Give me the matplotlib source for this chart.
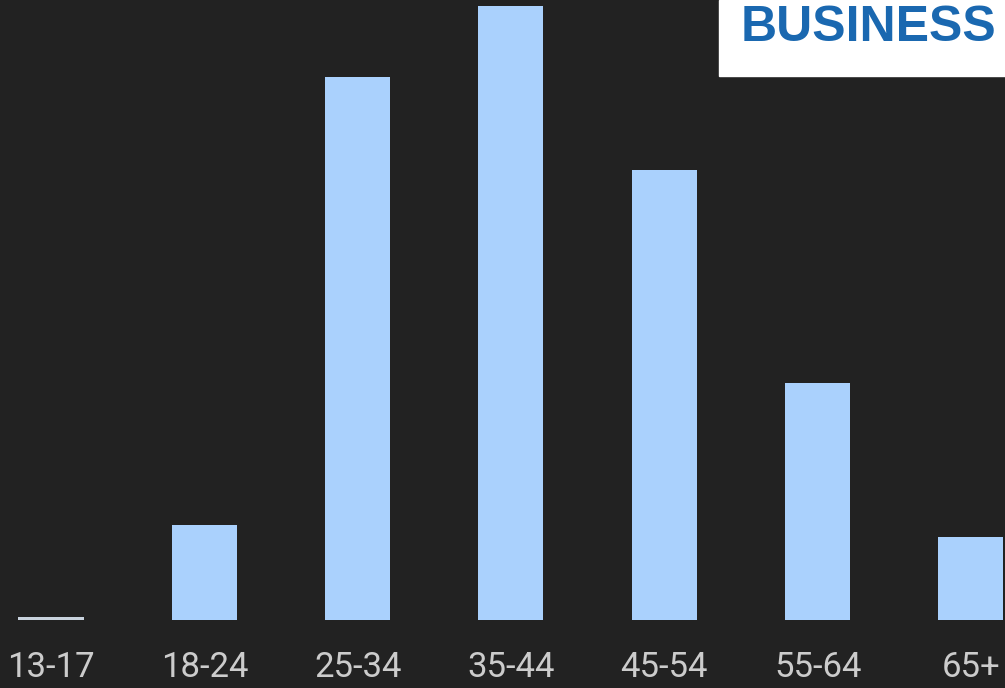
import matplotlib.pyplot as plt

# age groups and share of audience (%)
age_groups = ["13-17", "18-24", "25-34", "35-44", "45-54", "55-64", "65+"]
share = [0.15, 4.7, 26.8, 30.3, 22.2, 11.7, 4.1]

bg = "#222222"
bar_color = "#aad1fd"

fig = plt.figure(figsize=(10.05, 6.88), dpi=100, facecolor=bg)
ax = fig.add_axes([0, 68 / 688, 1, 620 / 688])
ax.set_facecolor(bg)

x = list(range(len(age_groups)))
colors = ["#c9d3de"] + [bar_color] * (len(age_groups) - 1)
ax.bar(x, share, width=0.424, color=colors)

ax.set_xlim(-51 / 153.33, (1005 - 51) / 153.33)
ax.set_ylim(0, 30.3 * 620 / 614)
ax.set_xticks(x)
ax.set_xticklabels(age_groups, fontsize=25, color="#cccccc", family="Roboto")
ax.tick_params(axis="x", length=0, pad=22)
ax.set_yticks([])
for s in ax.spines.values():
    s.set_visible(False)

# white logo box in the top-right corner
fig.patches.append(plt.Rectangle((719 / 1005, 1 - 76 / 688), 1, 76 / 688,
                                 transform=fig.transFigure, color="white", zorder=5))
fig.text(996 / 1005, 1 - 28 / 688, "BUSINESS", ha="right", va="center",
         fontsize=36, fontweight="bold", color="#1a68b0", family="Liberation Sans", zorder=6)

fig.savefig("out.png", dpi=100, facecolor=bg)
